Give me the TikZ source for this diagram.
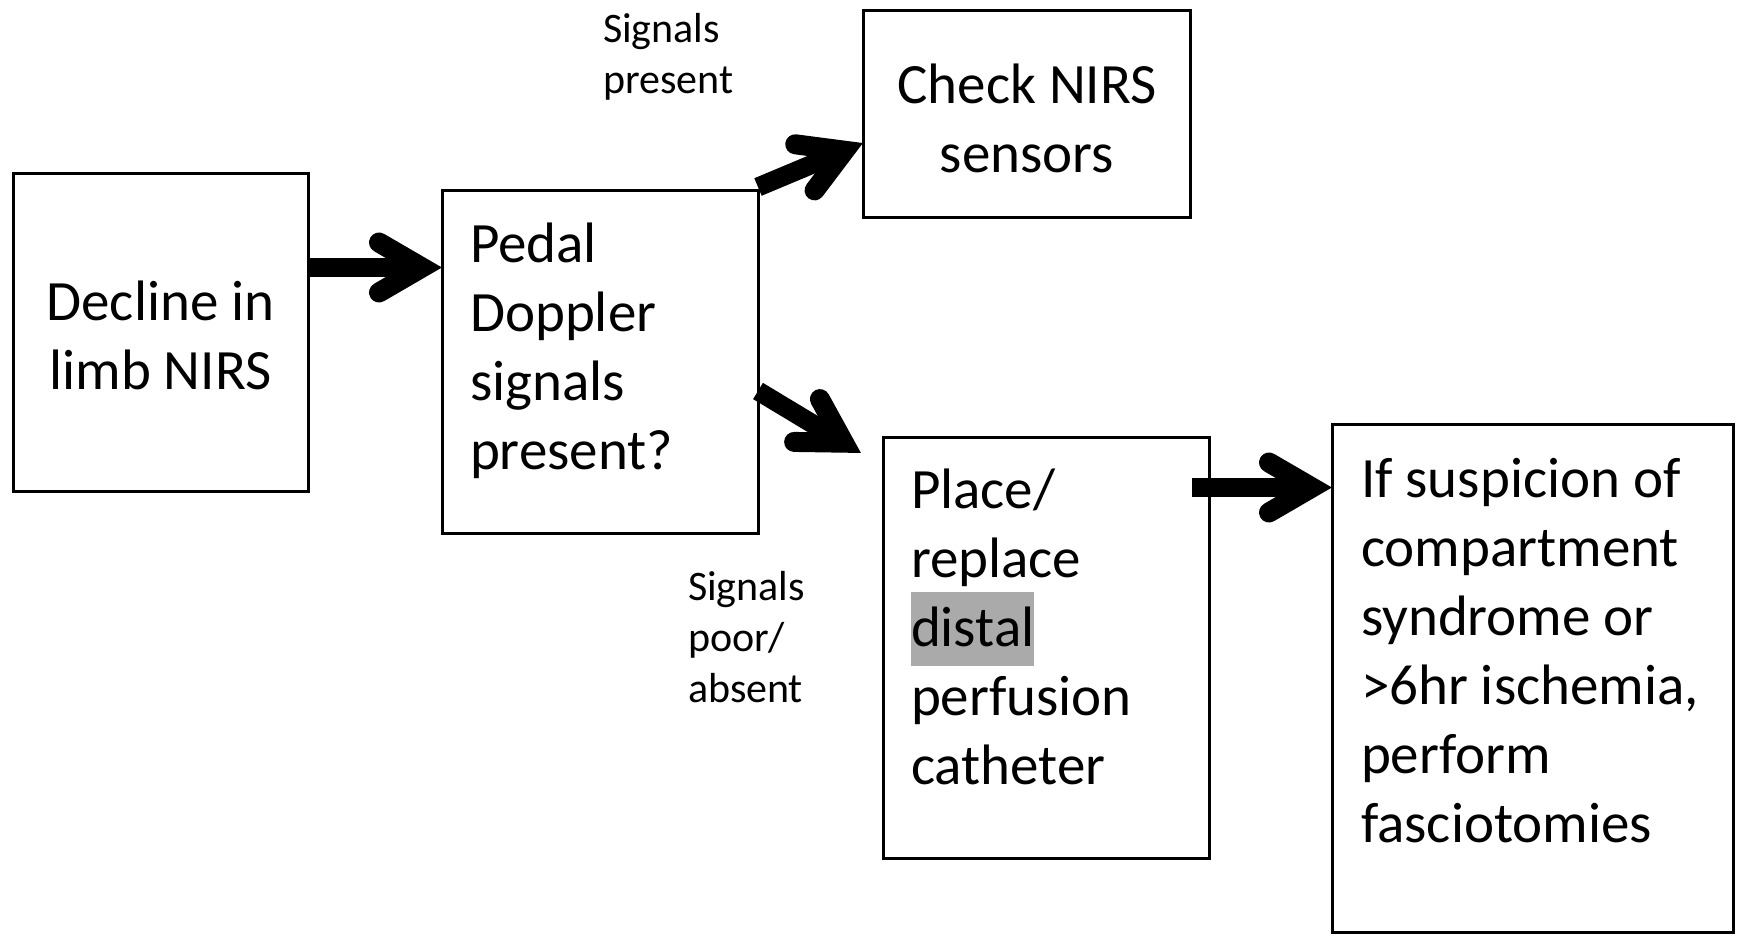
\documentclass[tikz,border=0pt]{standalone}
\usepackage{fontspec}
\setmainfont{Carlito}
\usetikzlibrary{arrows.meta}
\definecolor{hl}{RGB}{170,170,170}
\newcommand{\hlword}[1]{\smash{\setlength{\fboxsep}{0pt}\colorbox{hl}{\vrule height 54pt depth 20pt width 0pt #1}}}
\pgfdeclarearrow{
  name = Chev,
  setup code = {
    \pgfarrowssettipend{0pt}
    \pgfarrowssetlineend{-17pt}
    \pgfarrowssetvisualbackend{-17pt}
    \pgfarrowssetbackend{-74pt}
    \pgfarrowsupperhullpoint{-74pt}{36pt}
    \pgfarrowshullpoint{0pt}{0pt}
  },
  drawing code = {
    \pgfsetdash{}{0pt}
    \pgfsetlinewidth{20pt}
    \pgfsetroundcap
    \pgfsetmiterjoin
    \pgfpathmoveto{\pgfqpoint{-63pt}{25pt}}
    \pgfpathlineto{\pgfqpoint{-20pt}{0pt}}
    \pgfpathlineto{\pgfqpoint{-63pt}{-25pt}}
    \pgfusepathqstroke
  }
}
\tikzset{
  box/.style={draw=black, line width=3pt, inner sep=0pt, outer sep=0pt, anchor=north west},
  txt/.style={inner sep=0pt, outer sep=0pt, text=black, font=\fontsize{57}{69}\selectfont},
  lbl/.style={inner sep=0pt, outer sep=0pt, text=black, font=\fontsize{42}{51}\selectfont, align=left, anchor=north west},
  flow/.style={line width=19pt, -{Chev}},
}
\begin{document}
\begin{tikzpicture}[x=1pt,y=-1pt]
\useasboundingbox[fill=white] (0,0) rectangle (1738,936);
% boxes
\node[box, minimum width=295pt, minimum height=317pt] (b1) at (13,174) {};
\node[box, minimum width=316pt, minimum height=342pt] (b2) at (442,191) {};
\node[box, minimum width=327pt, minimum height=207pt] (b3) at (863,11) {};
\node[box, minimum width=326pt, minimum height=421pt] (b4) at (883,437) {};
\node[box, minimum width=401pt, minimum height=508pt] (b5) at (1332,424) {};
% texts
\node[txt, align=center, anchor=north] (t1) at (160.5,271.7) {\strut Decline in\\limb NIRS};
\node[txt, align=left, anchor=north west] (t2) at (470,213.7) {\strut Pedal\\Doppler\\signals\\present?};
\node[txt, align=center, anchor=north] (t3) at (1027,55.7) {\strut Check NIRS\\sensors};
\node[txt, align=left, anchor=north west] (t4) at (911,459.7) {\strut Place/\\replace\\\hlword{distal}\\perfusion\\catheter};
\node[txt, align=left, anchor=north west] (t5) at (1361,448.7) {\strut If suspicion of\\compartment\\syndrome or\\>6hr ischemia,\\perform\\fasciotomies};
% labels
\node[lbl] (l1) at (603,7.3) {\strut Signals\\present};
\node[lbl] (l2) at (688,564.3) {\strut Signals\\poor/\\absent};
% arrows
\draw[flow] ([yshift=-93.5pt]b1.north east) -- ([yshift=-76.5pt]b2.north west);
\draw[flow] ([yshift=4pt]b2.north east) -- ([yshift=-132pt]b3.north west);
\draw[flow] ([yshift=-200pt]b2.north east) -- ([xshift=-22pt,yshift=-16pt]b4.north west);
\draw[flow] ([xshift=-17pt,yshift=-50.5pt]b4.north east) -- ([yshift=-63.5pt]b5.north west);
\end{tikzpicture}
\end{document}
